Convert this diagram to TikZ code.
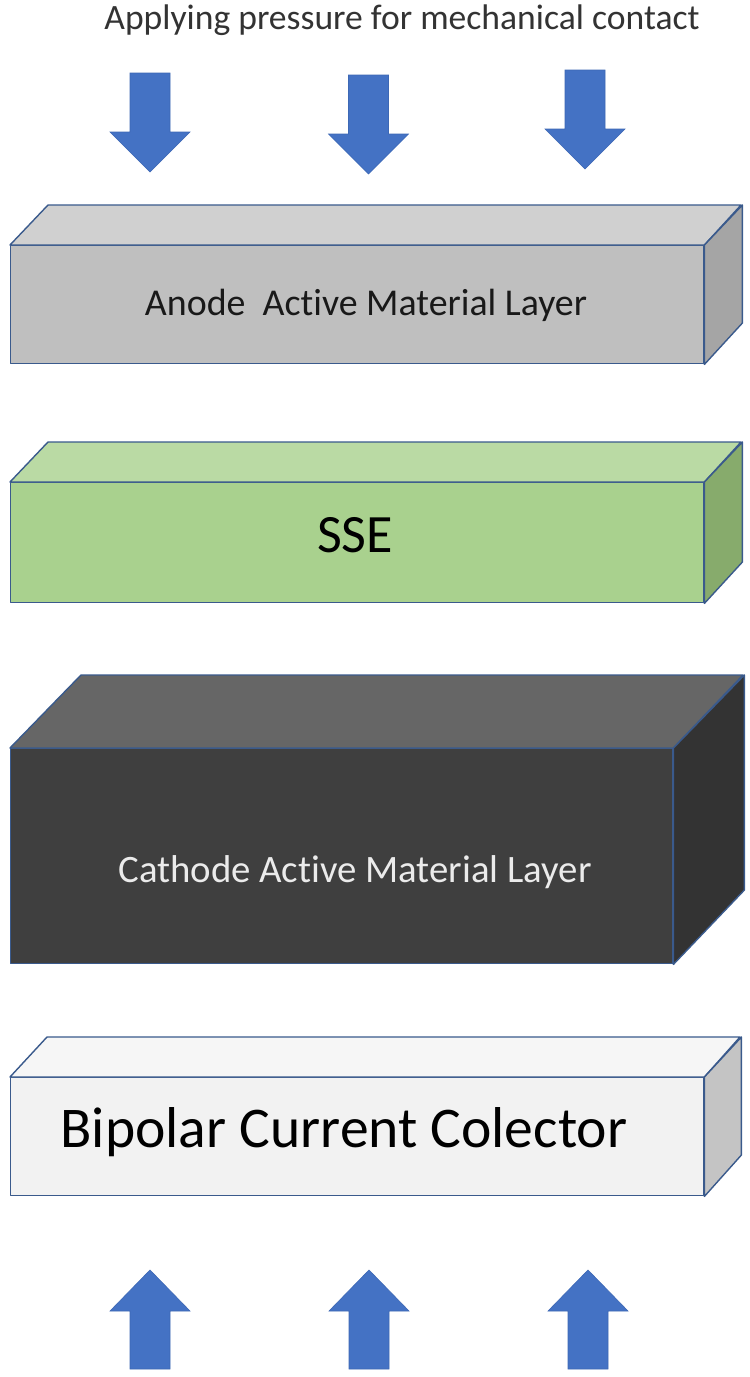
\documentclass[tikz,border=0pt]{standalone}
\usepackage{fontspec}
\setmainfont[RawFeature={-liga;-clig;-dlig;-hlig;-calt}]{Carlito}
\definecolor{arrowblue}{HTML}{4472C4}
\definecolor{arrowline}{HTML}{3D68B5}
\definecolor{edge}{HTML}{3A5A8C}
\definecolor{anodefront}{HTML}{BFBFBF}
\definecolor{anodetop}{HTML}{D0D0D0}
\definecolor{anodeside}{HTML}{A5A5A5}
\definecolor{ssefront}{HTML}{A9D18E}
\definecolor{ssetop}{HTML}{BADAA4}
\definecolor{sseside}{HTML}{87AB6C}
\definecolor{cathfront}{HTML}{3F3F3F}
\definecolor{cathtop}{HTML}{666666}
\definecolor{cathside}{HTML}{333333}
\definecolor{bipfront}{HTML}{F2F2F2}
\definecolor{biptop}{HTML}{F6F6F6}
\definecolor{bipside}{HTML}{C4C4C4}
\tikzset{
  face/.style={draw=edge, line width=1.4pt, line join=round},
  frontbox/.style={face, anchor=north west, inner sep=0pt},
  blockarrow/.style={fill=arrowblue, draw=arrowline, line width=0.6pt, line join=miter},
  downarr/.pic={\path[blockarrow] (-20,0) -- (20,0) -- (20,59) -- (40,59) -- (0,99) -- (-40,59) -- (-20,59) -- cycle;},
  uparr/.pic={\path[blockarrow] (-20,0) -- (20,0) -- (20,-58) -- (40,-58) -- (0,-99) -- (-40,-58) -- (-20,-58) -- cycle;},
  lbl/.style={anchor=base, inner sep=0pt}
}
\begin{document}
\begin{tikzpicture}[x=1pt,y=-1pt]
\useasboundingbox[fill=white] (0,0) rectangle (750,1377);

% title
\node[lbl, text=black!80] (title) at (402,29) {\fontsize{35.6}{40}\selectfont Applying pressure for mechanical contac\kern0pt t};

% top arrows
\pic at (150,73) {downarr};
\pic at (368.5,75) {downarr};
\pic at (585,70) {downarr};

% Anode box
\node[frontbox, fill=anodefront, minimum width=693pt, minimum height=118pt] (anode) at (10,245) {};
\path[face, fill=anodetop] (anode.north west) -- ++(38,-40) -- ++(693,0) -- (anode.north east) -- cycle;
\path[face, fill=anodeside] (anode.north east) -- ++(38,-40) -- ++(0,118) -- (anode.south east) -- cycle;
\node[lbl, text=black!90] (anodetext) at (366,315) {\fontsize{37.9}{42}\selectfont Anode\ \ Ac\kern0pt tive Material Layer};

% SSE box
\node[frontbox, fill=ssefront, minimum width=693pt, minimum height=120pt] (sse) at (10,482) {};
\path[face, fill=ssetop] (sse.north west) -- ++(38,-40) -- ++(693,0) -- (sse.north east) -- cycle;
\path[face, fill=sseside] (sse.north east) -- ++(38,-40) -- ++(0,120) -- (sse.south east) -- cycle;
\node[lbl, text=black] (ssetext) at (355,552) {\fontsize{54}{60}\selectfont SSE};

% Cathode box
\node[frontbox, fill=cathfront, minimum width=662pt, minimum height=215pt] (cath) at (10,748) {};
\path[face, fill=cathtop] (cath.north west) -- ++(71,-73) -- ++(662,0) -- (cath.north east) -- cycle;
\path[face, fill=cathside] (cath.north east) -- ++(71,-73) -- ++(0,215) -- (cath.south east) -- cycle;
\node[lbl, text=white!92!black] (cathtext) at (355,882) {\fontsize{38.8}{44}\selectfont Cathode Ac\kern0pt tive Material Layer};

% Bipolar current collector box
\node[frontbox, fill=bipfront, minimum width=693pt, minimum height=118pt] (bip) at (10,1077) {};
\path[face, fill=biptop] (bip.north west) -- ++(37,-40) -- ++(693,0) -- (bip.north east) -- cycle;
\path[face, fill=bipside] (bip.north east) -- ++(37,-40) -- ++(0,118) -- (bip.south east) -- cycle;
\node[lbl, text=black] (biptext) at (344,1147) {\fontsize{57.6}{64}\selectfont Bipolar Current Colector};

% bottom arrows
\pic at (150,1369) {uparr};
\pic at (369,1369) {uparr};
\pic at (588,1369) {uparr};
\end{tikzpicture}
\end{document}
